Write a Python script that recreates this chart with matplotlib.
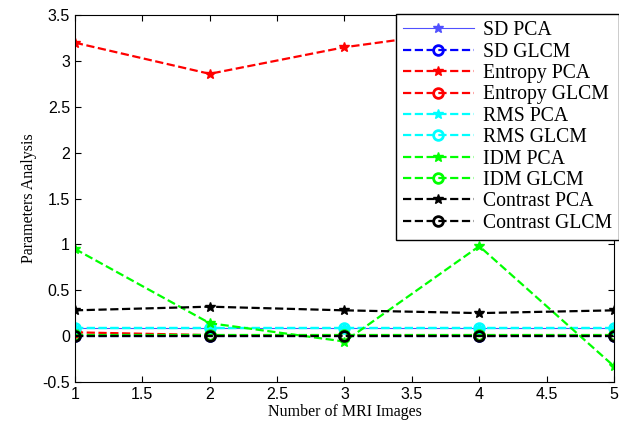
import matplotlib
matplotlib.use("Agg")
import matplotlib.pyplot as plt
import numpy as np

# MRI image index
images = [1, 2, 3, 4, 5]

sd_pca = [0.09, 0.09, 0.09, 0.09, 0.09]
sd_glcm = [0.0, 0.0, 0.0, 0.0, 0.0]
entropy_pca = [3.20, 2.86, 3.15, 3.35, 2.72]
entropy_glcm = [0.04, 0.01, 0.01, 0.01, 0.01]
rms_pca = [0.09, 0.09, 0.09, 0.09, 0.09]
rms_glcm = [0.09, 0.09, 0.09, 0.09, 0.09]
idm_pca = [0.95, 0.14, -0.06, 0.98, -0.33]
idm_glcm = [0.01, 0.01, 0.01, 0.01, 0.01]
contrast_pca = [0.28, 0.32, 0.28, 0.25, 0.28]
contrast_glcm = [0.0, 0.0, 0.0, 0.0, 0.0]

series = [
    ("SD PCA", sd_pca, "#5050ff", "-", "*"),
    ("SD GLCM", sd_glcm, "#0000ff", "--", "o"),
    ("Entropy PCA", entropy_pca, "#ff0000", "--", "*"),
    ("Entropy GLCM", entropy_glcm, "#ff0000", "--", "o"),
    ("RMS PCA", rms_pca, "#00ffff", "--", "*"),
    ("RMS GLCM", rms_glcm, "#00ffff", "--", "o"),
    ("IDM PCA", idm_pca, "#00ff00", "--", "*"),
    ("IDM GLCM", idm_glcm, "#00ff00", "--", "o"),
    ("Contrast PCA", contrast_pca, "#000000", "--", "*"),
    ("Contrast GLCM", contrast_glcm, "#000000", "--", "o"),
]

fig = plt.figure(figsize=(6.19, 4.21), dpi=100)
ax = fig.add_axes([0.121, 0.093, 0.871, 0.871])

for label, vals, color, ls, mk in series:
    lw = 0.8 if ls == "-" else 1.6
    if mk == "o":
        ax.plot(images, vals, linestyle=ls, color=color, linewidth=lw,
                marker="o", markersize=7, markerfacecolor="none",
                markeredgewidth=2, label=label)
    else:
        ax.plot(images, vals, linestyle=ls, color=color, linewidth=lw,
                marker="*", markersize=7, label=label)

ax.set_xlim(1, 5)
ax.set_ylim(-0.5, 3.5)
ax.set_xticks(np.arange(1, 5.01, 0.5))
ax.set_xticklabels(["1", "1.5", "2", "2.5", "3", "3.5", "4", "4.5", "5"])
ax.set_yticks(np.arange(-0.5, 3.51, 0.5))
ax.set_yticklabels(["-0.5", "0", "0.5", "1", "1.5", "2", "2.5", "3", "3.5"])
ax.tick_params(direction="in", top=True, right=True, labelsize=11.5, length=4)
for t in ax.get_xticklabels() + ax.get_yticklabels():
    t.set_fontfamily("Liberation Sans")

ax.set_xlabel("Number of MRI Images", fontfamily="Liberation Serif", fontsize=11.5, labelpad=2)
ax.set_ylabel("Parameters Analysis", fontfamily="Liberation Serif", fontsize=11.5, labelpad=4)

leg = ax.legend(loc="upper right", bbox_to_anchor=(1.009, 1.002), fancybox=False,
                edgecolor="black", framealpha=1.0, handlelength=3.6,
                handletextpad=0.45, labelspacing=0.12, borderaxespad=0.0,
                borderpad=0.35,
                prop={"family": "Liberation Serif", "size": 14.2})
leg.get_frame().set_linewidth(1.0)

fig.savefig("out.png", dpi=100)
